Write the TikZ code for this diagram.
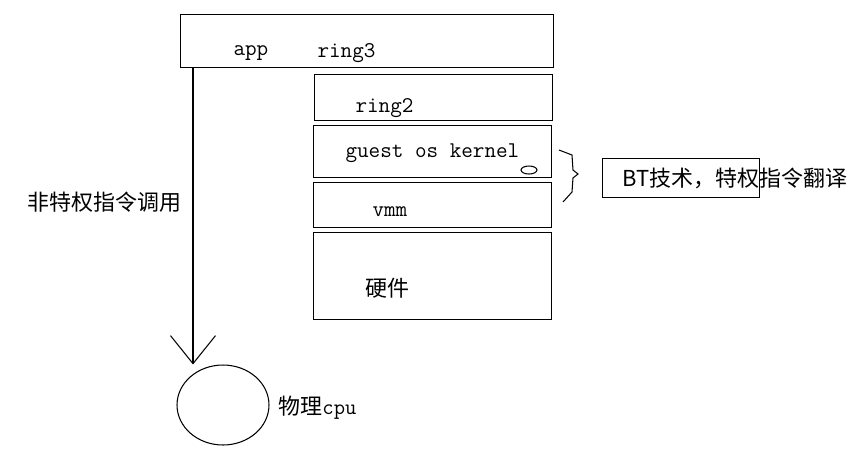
\documentclass[tikz,border=0pt]{standalone}
\usepackage{fontspec}
\newfontfamily\cjk{Noto Sans CJK SC}
\usetikzlibrary{arrows.meta, calc, shapes.geometric}

\begin{document}
\begin{tikzpicture}[>={Straight Barb[length=5.6mm, width=9mm]}, line width=0.6pt,
    x=0.02cm, y=-0.02cm,
    layer/.style={draw, inner sep=0pt, anchor=north west},
    lbl/.style={inner sep=0pt, anchor=west, font=\ttfamily\fontsize{12.8}{14}\selectfont},
    zh/.style={inner sep=0pt, anchor=west, font=\cjk\fontsize{12.5}{14}\selectfont}]
  \useasboundingbox (0,0) rectangle (867,458);
  % ring stack
  \node[layer, minimum width=7.46cm, minimum height=1.06cm] (ring3box) at (180,14) {};
  \node[layer, minimum width=4.76cm, minimum height=0.92cm] (ring2box) at (314,74) {};
  \node[layer, minimum width=4.76cm, minimum height=1.04cm] (kernelbox) at (313,125) {};
  \node[layer, minimum width=4.76cm, minimum height=0.90cm] (vmmbox) at (313,182) {};
  \node[layer, minimum width=4.76cm, minimum height=1.74cm] (hwbox) at (313,232) {};
  \node[lbl] (app) at (233,53) {app};
  \node[lbl] (ring3) at (317,53) {ring3};
  \node[lbl] (ring2) at (355,108) {ring2};
  \node[lbl] (kernel) at (345,153) {guest os kernel};
  \node[lbl] (vmm) at (372,212) {vmm};
  \node[zh] (hw) at (365,288) {硬件};
  \node[draw, ellipse, inner sep=0pt, minimum width=3.2mm, minimum height=1.6mm] (trap) at (529,170) {};
  % BT
  \draw (559,150) -- (572,155) -- (573,170) -- (578,174) -- (573,178) -- (572,192) -- (563,202);
  \node[layer, minimum width=3.14cm, minimum height=0.78cm] (btbox) at (602,158) {};
  \node[zh] (bt) at (622,178) {BT技术，特权指令翻译};
  % direct path to cpu
  \node[draw, ellipse, inner sep=0pt, minimum width=1.84cm, minimum height=1.6cm] (cpu) at (223,405) {};
  \node[zh] (cpulbl) at (278,408) {物理{\ttfamily cpu}};
  \coordinate (start) at ($(ring3box.south west)+(13,0)$);
  \draw[->] (start) -- (start |- cpu.north);
  \node[zh] (direct) at (27,202) {非特权指令调用};
\end{tikzpicture}
\end{document}
